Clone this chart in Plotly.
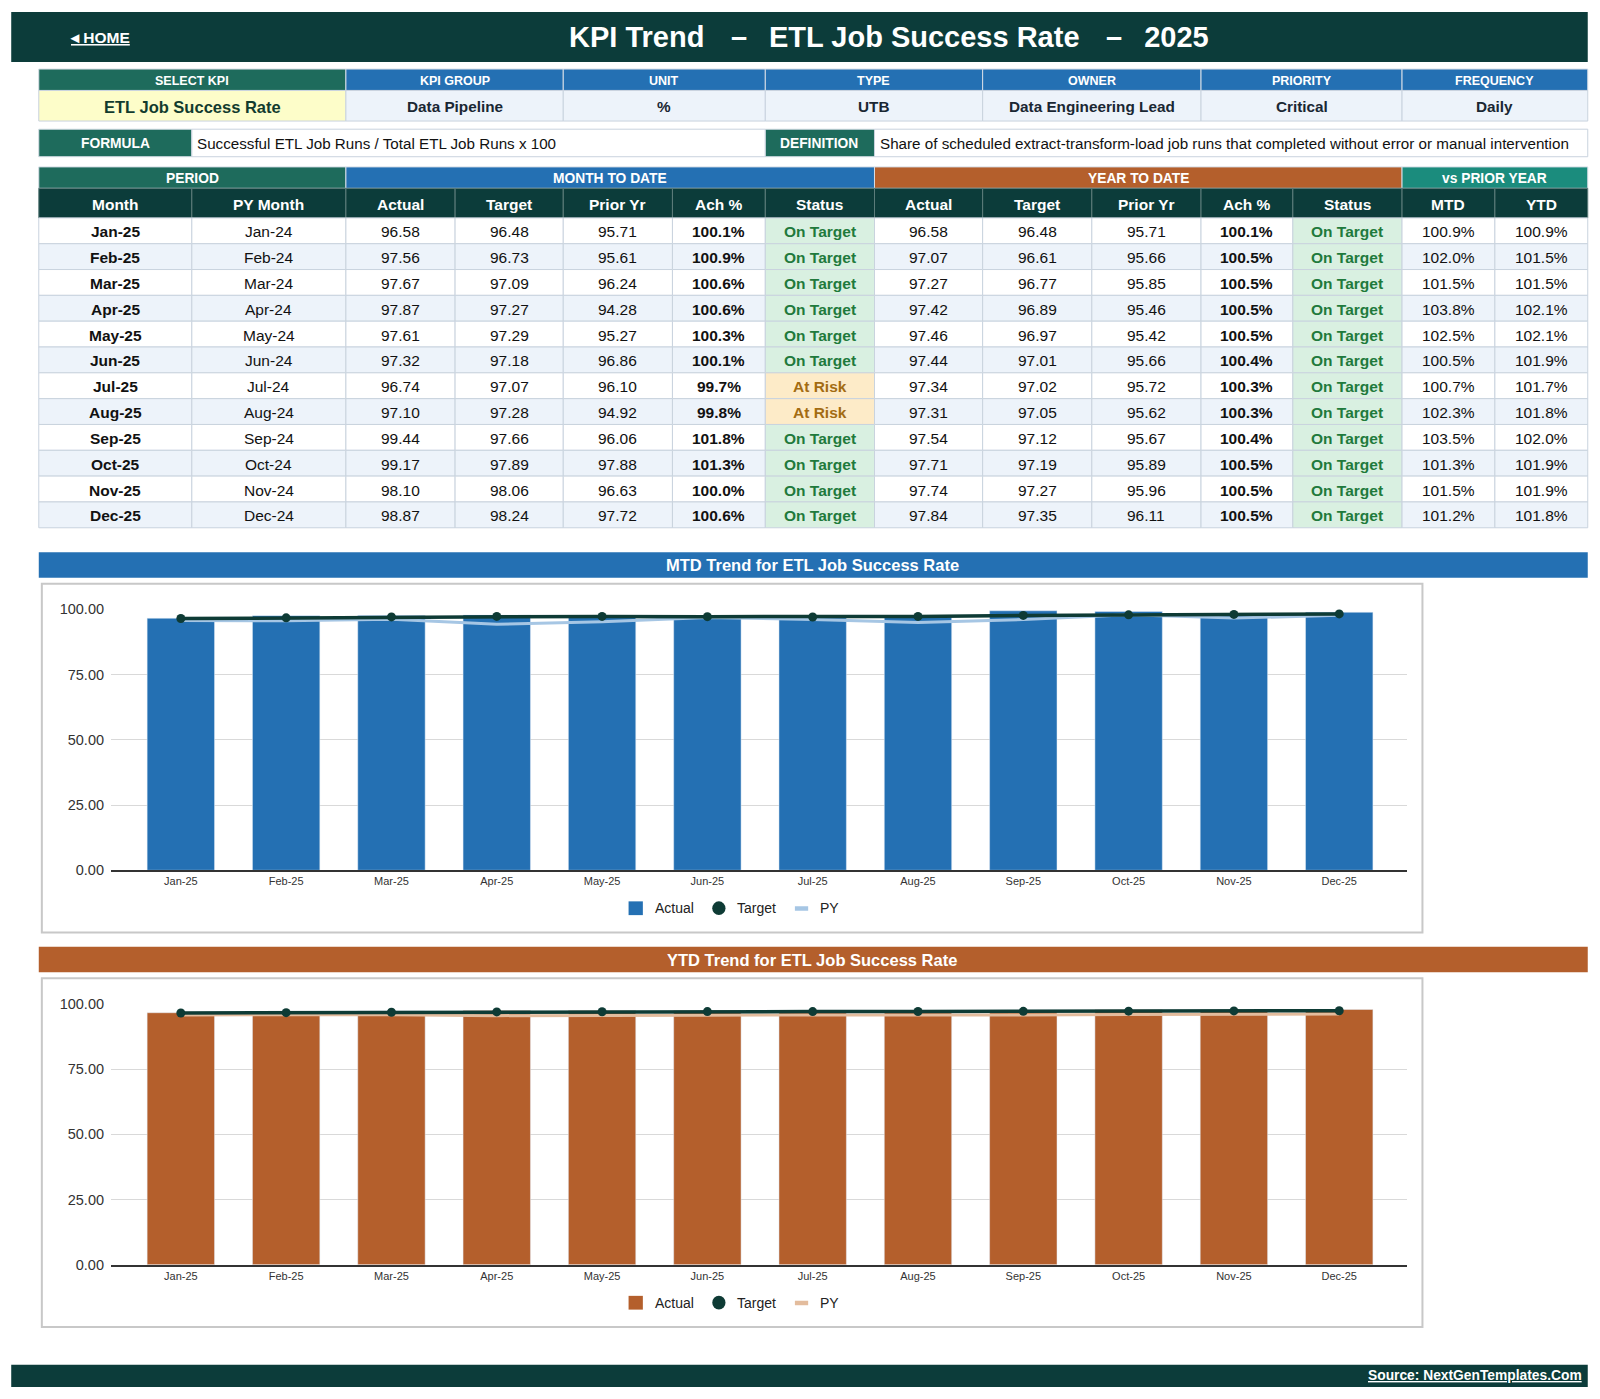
import plotly.graph_objects as go

W, H = 1600, 1399
# layout numbers below are measured on a 1568x1371 view of the page
VW, VH = 1568, 1371
FONT = 'Liberation Sans, Arial, sans-serif'

# ---- data ----
kpi_name = 'ETL Job Success Rate'
info_headers = ['SELECT KPI', 'KPI GROUP', 'UNIT', 'TYPE', 'OWNER', 'PRIORITY', 'FREQUENCY']
info_values = ['ETL Job Success Rate', 'Data Pipeline', '%', 'UTB', 'Data Engineering Lead', 'Critical', 'Daily']
formula_text = 'Successful ETL Job Runs / Total ETL Job Runs x 100'
definition_text = 'Share of scheduled extract-transform-load job runs that completed without error or manual intervention'

months = ['Jan-25', 'Feb-25', 'Mar-25', 'Apr-25', 'May-25', 'Jun-25',
          'Jul-25', 'Aug-25', 'Sep-25', 'Oct-25', 'Nov-25', 'Dec-25']
py_months = ['Jan-24', 'Feb-24', 'Mar-24', 'Apr-24', 'May-24', 'Jun-24',
             'Jul-24', 'Aug-24', 'Sep-24', 'Oct-24', 'Nov-24', 'Dec-24']
mtd_actual = [96.58, 97.56, 97.67, 97.87, 97.61, 97.32, 96.74, 97.10, 99.44, 99.17, 98.10, 98.87]
mtd_target = [96.48, 96.73, 97.09, 97.27, 97.29, 97.18, 97.07, 97.28, 97.66, 97.89, 98.06, 98.24]
mtd_prior = [95.71, 95.61, 96.24, 94.28, 95.27, 96.86, 96.10, 94.92, 96.06, 97.88, 96.63, 97.72]
mtd_ach = ['100.1%', '100.9%', '100.6%', '100.6%', '100.3%', '100.1%',
           '99.7%', '99.8%', '101.8%', '101.3%', '100.0%', '100.6%']
mtd_status = ['On Target'] * 6 + ['At Risk', 'At Risk'] + ['On Target'] * 4
ytd_actual = [96.58, 97.07, 97.27, 97.42, 97.46, 97.44, 97.34, 97.31, 97.54, 97.71, 97.74, 97.84]
ytd_target = [96.48, 96.61, 96.77, 96.89, 96.97, 97.01, 97.02, 97.05, 97.12, 97.19, 97.27, 97.35]
ytd_prior = [95.71, 95.66, 95.85, 95.46, 95.42, 95.66, 95.72, 95.62, 95.67, 95.89, 95.96, 96.11]
ytd_ach = ['100.1%', '100.5%', '100.5%', '100.5%', '100.5%', '100.4%',
           '100.3%', '100.3%', '100.4%', '100.5%', '100.5%', '100.5%']
ytd_status = ['On Target'] * 12
vs_py_mtd = ['100.9%', '102.0%', '101.5%', '103.8%', '102.5%', '100.5%',
             '100.7%', '102.3%', '103.5%', '101.3%', '101.5%', '101.2%']
vs_py_ytd = ['100.9%', '101.5%', '101.5%', '102.1%', '102.1%', '101.9%',
             '101.7%', '101.8%', '102.0%', '101.9%', '101.9%', '101.8%']
y_ticks = [0, 25, 50, 75, 100]

# ---- colours ----
DARK = '#0c3c3a'
GREEN = '#1e6b5c'
BLUE = '#2470b3'
ORANGE = '#b45f2c'
TEAL = '#1b8c7d'
LIGHT = '#edf3fa'
YELLOW = '#fdfdc9'
BORDER = '#c9d3de'
OK_BG, OK_FG = '#d9f0e1', '#1f7a3c'
RISK_BG, RISK_FG = '#fdebc8', '#a36c12'

shapes = []
annotations = []


def px(x):
    return x / VW


def py(y):
    # small vertical correction found by comparing renders
    return 1 - ((y - 7.1) / 0.9896) / VH


def box(x0, y0, x1, y1, fill, line=None, lw=1):
    shapes.append(dict(type='rect', xref='paper', yref='paper', layer='below',
                       x0=px(x0), x1=px(x1), y0=py(y1), y1=py(y0),
                       fillcolor=fill, line=dict(color=line or fill, width=lw if line else 0)))


def text(x, y, s, size=15.5, color='#111', bold=False, anchor='center'):
    if bold:
        s = '<b>' + s + '</b>'
    annotations.append(dict(x=px(x), y=py(y), xref='paper', yref='paper', text=s,
                            showarrow=False, xanchor=anchor, yanchor='middle',
                            font=dict(family=FONT, size=size, color=color)))


def cell(x0, y0, x1, y1, fill, s, size=15.5, color='#111', bold=False, line=BORDER):
    box(x0, y0, x1, y1, fill, line)
    text((x0 + x1) / 2, (y0 + y1) / 2 + 1, s, size, color, bold)


# ---- title bar ----
box(11, 11, 1556, 60, DARK)
text(67, 36, '<u>◂ HOME</u>', 15.5, 'white', True, 'left')
gap_l = '\u00a0' * 3 + '\u200a'
gap_r = '\u00a0' * 2 + '\u2009'
text(871, 36, 'KPI Trend' + gap_l + '–' + gap_r + kpi_name + gap_l + '–' + gap_r + '2025', 29, 'white', True)

# ---- KPI info ----
info_x = [38, 339, 552, 750, 963, 1177, 1374, 1556]
for i in range(7):
    hdr_fill = GREEN if i == 0 else BLUE
    cell(info_x[i], 67, info_x[i + 1], 88, hdr_fill, info_headers[i], 12.5, 'white', True, '#d5dde6')
    if i == 0:
        cell(info_x[i], 88, info_x[i + 1], 118, YELLOW, info_values[i], 16.5, '#123b2e', True)
    else:
        cell(info_x[i], 88, info_x[i + 1], 118, LIGHT, info_values[i], 15.3, '#1a2733', True)

box(38, 126, 188, 153, GREEN, '#d5dde6')
text(113, 140, 'FORMULA', 13.8, 'white', True)
box(188, 126, 750, 153, 'white', BORDER)
text(191, 140, formula_text, 15.2, '#111', False, 'left')
box(750, 126, 857, 153, GREEN, '#d5dde6')
text(803, 140, 'DEFINITION', 13.8, 'white', True)
box(857, 126, 1556, 153, 'white', BORDER)
text(860, 140, definition_text, 15.2, '#111', False, 'left')

# ---- main table ----
col_x = [38, 188, 339, 446, 552, 659, 750, 857, 963, 1070, 1177, 1267, 1374, 1465, 1556]
groups = [('PERIOD', 0, 2, GREEN), ('MONTH TO DATE', 2, 7, BLUE),
          ('YEAR TO DATE', 7, 12, ORANGE), ('vs PRIOR YEAR', 12, 14, TEAL)]
for name, a, b, c in groups:
    cell(col_x[a], 163, col_x[b], 184, c, name, 13.8, 'white', True, '#d5dde6')
col_names = ['Month', 'PY Month', 'Actual', 'Target', 'Prior Yr', 'Ach %', 'Status',
             'Actual', 'Target', 'Prior Yr', 'Ach %', 'Status', 'MTD', 'YTD']
for j, n in enumerate(col_names):
    cell(col_x[j], 184, col_x[j + 1], 213, DARK, n, 15.5, 'white', True, '#5d7d7b')

row_h = 304 / 12
for i in range(12):
    y0 = 213 + i * row_h
    y1 = y0 + row_h
    bg = 'white' if i % 2 == 0 else LIGHT
    vals = [months[i], py_months[i], '%.2f' % mtd_actual[i], '%.2f' % mtd_target[i],
            '%.2f' % mtd_prior[i], mtd_ach[i], mtd_status[i],
            '%.2f' % ytd_actual[i], '%.2f' % ytd_target[i], '%.2f' % ytd_prior[i],
            ytd_ach[i], ytd_status[i], vs_py_mtd[i], vs_py_ytd[i]]
    for j, v in enumerate(vals):
        if j in (6, 11):
            risk = v == 'At Risk'
            cell(col_x[j], y0, col_x[j + 1], y1, RISK_BG if risk else OK_BG, v, 15.5,
                 RISK_FG if risk else OK_FG, True)
        else:
            cell(col_x[j], y0, col_x[j + 1], y1, bg, v, 15.5, '#111', j in (0, 5, 10))

# ---- charts ----
fig = go.Figure()


def chart(top, color, py_color, title, actual, target, prior, xa, ya):
    # title bar and frame
    box(38, top, 1556, top + 25, color)
    text(796, top + 13, title, 16.5, 'white', True)
    box(41, top + 31, 1394, top + 373, 'white', '#c8c8c8', 2)
    fig.add_trace(go.Bar(x=months, y=actual, marker_color=color, width=0.64,
                         xaxis=xa, yaxis=ya, showlegend=False))
    fig.add_trace(go.Scatter(x=months, y=prior, mode='lines', line=dict(color=py_color, width=3),
                             xaxis=xa, yaxis=ya, showlegend=False))
    fig.add_trace(go.Scatter(x=months, y=target, mode='lines+markers',
                             line=dict(color='#0e3b35', width=3.5), marker=dict(size=9, color='#0e3b35'),
                             xaxis=xa, yaxis=ya, showlegend=False, cliponaxis=False))
    # legend
    ly = top + 349.5
    box(616, ly - 7, 630, ly + 6.5, color)
    text(640, ly, 'Actual', 14, '#222', False, 'left')
    shapes.append(dict(type='circle', xref='paper', yref='paper',
                       x0=px(698), x1=px(711), y0=py(ly + 6.5), y1=py(ly - 7),
                       fillcolor='#0e3b35', line=dict(width=0)))
    text(720, ly, 'Target', 14, '#222', False, 'left')
    shapes.append(dict(type='line', xref='paper', yref='paper',
                       x0=px(779), x1=px(792), y0=py(ly), y1=py(ly),
                       line=dict(color=py_color, width=4.5)))
    text(802, ly, 'PY', 14, '#222', False, 'left')


chart(541, BLUE, '#a6c6e4', 'MTD Trend for ' + kpi_name, mtd_actual, mtd_target, mtd_prior, 'x', 'y')
chart(928, ORANGE, '#e3bc9d', 'YTD Trend for ' + kpi_name, ytd_actual, ytd_target, ytd_prior, 'x2', 'y2')

xcommon = dict(type='category', range=[-0.663, 11.645], showgrid=False, zeroline=False,
               showline=True, linecolor='#333', linewidth=1.5, ticks='',
               tickfont=dict(family=FONT, size=11, color='#333'), domain=[px(108.8), px(1379)])
ycommon = dict(range=[0, 100], tickvals=y_ticks, tickformat='.2f', showgrid=True,
               gridcolor='#d9d9d9', gridwidth=1, zeroline=False, showline=False,
               ticklabelstandoff=6, tickfont=dict(family=FONT, size=14.5, color='#333'))

fig.update_layout(
    width=W, height=H, margin=dict(l=0, r=0, t=0, b=0),
    paper_bgcolor='white', plot_bgcolor='white',
    xaxis=dict(xcommon, anchor='y'),
    yaxis=dict(ycommon, anchor='x', domain=[py(853), py(597)]),
    xaxis2=dict(xcommon, anchor='y2'),
    yaxis2=dict(ycommon, anchor='x2', domain=[py(1240), py(984)]),
    bargap=0.35, showlegend=False,
)

# ---- footer ----
box(11, 1338, 1556, 1360, DARK)
text(1552, 1349, '<u>Source: NextGenTemplates.Com</u>', 13.8, 'white', True, 'right')

fig.update_layout(shapes=shapes, annotations=annotations)
fig.write_html('out.html', config={'displayModeBar': False},
               post_script="document.body.style.margin='0';document.body.style.overflow='hidden';")
